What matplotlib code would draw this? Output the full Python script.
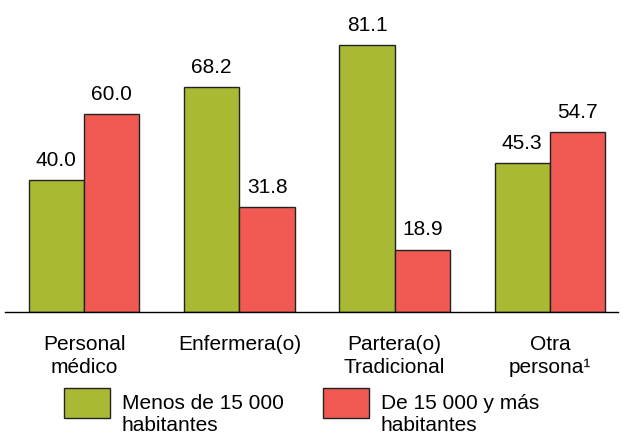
import matplotlib.pyplot as plt
import matplotlib.patches as mpatches
import numpy as np

plt.rcParams["font.family"] = ["Liberation Sans", "DejaVu Sans"]

categories = ["Personal\nmédico", "Enfermera(o)", "Partera(o)\nTradicional", "Otra\npersona¹"]
menos_15000 = [40.0, 68.2, 81.1, 45.3]
mas_15000 = [60.0, 31.8, 18.9, 54.7]
series_labels = ["Menos de 15 000\nhabitantes", "De 15 000 y más\nhabitantes"]

GREEN = "#a9b934"
RED = "#f15a52"
EDGE = "#222222"
W, H = 623, 435

fig = plt.figure(figsize=(W / 100, H / 100), dpi=100)
ax = fig.add_axes([5 / W, 1 - 313 / H, 613 / W, 313 / H])

x = np.arange(len(categories))
w = 0.357
b1 = ax.bar(x - w / 2, menos_15000, w, color=GREEN, edgecolor=EDGE, linewidth=1)
b2 = ax.bar(x + w / 2, mas_15000, w, color=RED, edgecolor=EDGE, linewidth=1)

for bars in (b1, b2):
    for rect in bars:
        ax.annotate(f"{rect.get_height():.1f}",
                    (rect.get_x() + rect.get_width() / 2, rect.get_height()),
                    xytext=(0, 11), textcoords="offset points",
                    ha="center", va="baseline", fontsize=15)

ax.set_xlim(-0.509, 3.438)
ax.set_ylim(0, 313 / (267 / 81.1))
ax.set_xticks(x)
ax.set_xticklabels(categories, fontsize=15, linespacing=1.22)
ax.tick_params(axis="x", length=0, pad=16)
ax.set_yticks([])
for s in ("left", "right", "top"):
    ax.spines[s].set_visible(False)
ax.spines["bottom"].set_linewidth(1)

# legend drawn by hand: square sits level with the first text line
legend_x = [64, 323]
for colour, label, lx in zip([GREEN, RED], series_labels, legend_x):
    fig.patches.append(mpatches.Rectangle((lx / W, 1 - 419 / H), 46 / W, 30 / H,
                                          transform=fig.transFigure, facecolor=colour,
                                          edgecolor=EDGE, linewidth=1))
    fig.text((lx + 58) / W, 1 - 394 / H, label, fontsize=15, va="top", ha="left",
             linespacing=1.22)

fig.savefig("out.png", dpi=100)
